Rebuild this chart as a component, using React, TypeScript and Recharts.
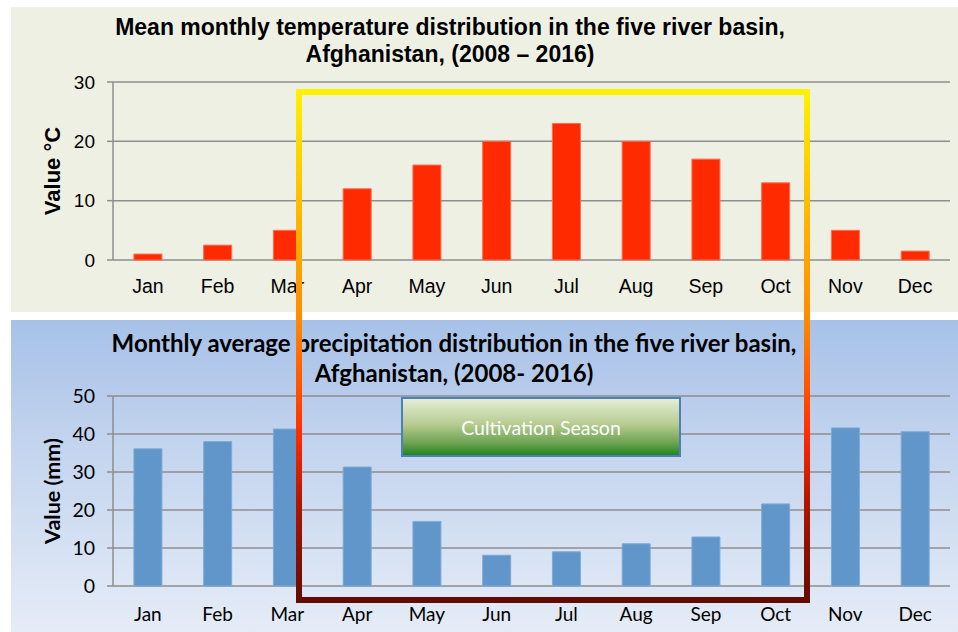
import React from "react";
import { BarChart, Bar, XAxis, YAxis, CartesianGrid } from "recharts";

const months = ["Jan", "Feb", "Mar", "Apr", "May", "Jun", "Jul", "Aug", "Sep", "Oct", "Nov", "Dec"];
const temperature = [1, 2.5, 5, 12, 16, 20, 23, 20, 17, 13, 5, 1.5];
const precipitation = [36.1, 38, 41.3, 31.3, 17, 8.1, 9, 11.1, 12.9, 21.6, 41.6, 40.6];
const tempTicks = [0, 10, 20, 30];
const precipTicks = [0, 10, 20, 30, 40, 50];
// boundaries between months, Excel style tick marks
const edgeTicks = [0, 1, 2, 3, 4, 5, 6, 7, 8, 9, 10, 11, 12];

const tempData = months.map((m, i) => ({ month: m, value: temperature[i] }));
const precipData = months.map((m, i) => ({ month: m, value: precipitation[i] }));

const GRID = "#8e8e8e";

type PanelProps = {
  data: { month: string; value: number }[];
  ticks: number[];
  max: number;
  color: string;
  edge: string;
  yLabel: string;
  font: string;
  tickSize: number;
  xTickSize: number;
  labelSize: number;
  height: number;
  top: number;
  xAxisHeight: number;
  labelGap: number;
  labelDx: number;
};

function Panel(p: PanelProps) {
  return (
    <BarChart
      width={947}
      height={p.height}
      data={p.data}
      margin={{ top: p.top, right: 8, left: 0, bottom: 0 }}
      barCategoryGap="30%"
    >
      <CartesianGrid xAxisId="cat" vertical={false} stroke={GRID} strokeWidth={1.5} />
      <XAxis
        xAxisId="edge"
        type="number"
        domain={[0, 12]}
        ticks={edgeTicks}
        interval={0}
        height={0}
        tick={false}
        tickSize={6}
        axisLine={{ stroke: GRID, strokeWidth: 1.5 }}
        tickLine={{ stroke: GRID, strokeWidth: 1.5 }}
      />
      <XAxis
        xAxisId="cat"
        dataKey="month"
        height={p.xAxisHeight}
        axisLine={false}
        tickLine={false}
        tickSize={0}
        tickMargin={p.labelGap}
        interval={0}
        tick={{ fontSize: p.xTickSize, fill: "#000", fontFamily: p.font }}
      />
      <YAxis
        width={102}
        domain={[0, p.max]}
        ticks={p.ticks}
        interval={0}
        tickSize={6}
        tickMargin={12}
        axisLine={{ stroke: GRID, strokeWidth: 1.5 }}
        tickLine={{ stroke: GRID, strokeWidth: 1.5 }}
        tick={{ fontSize: p.tickSize, fill: "#000", fontFamily: p.font }}
        label={{
          value: p.yLabel,
          angle: -90,
          position: "center",
          dx: p.labelDx,
          style: { fontSize: p.labelSize, fontWeight: "bold", fill: "#000", fontFamily: p.font },
        }}
      />
      <Bar xAxisId="cat" dataKey="value" fill={p.color} stroke={p.edge} strokeWidth={1} isAnimationActive={false} />
    </BarChart>
  );
}

export default function App() {
  const arial = "'Liberation Sans', Arial, sans-serif";
  const calibri = "Lato, 'Open Sans', sans-serif";
  return (
    <div style={{ position: "absolute", left: 0, top: 0, width: 958, height: 632, background: "#fff", overflow: "hidden" }}>
      <div style={{ position: "absolute", left: 11, top: 7, width: 947, height: 305, background: "#eff0e4" }}>
        <Panel
          data={tempData}
          ticks={tempTicks}
          max={30}
          color="#ff2a00"
          edge="#ff6a4a"
          yLabel="Value °C"
          font={arial}
          tickSize={19}
          xTickSize={19.5}
          labelSize={22}
          height={305}
          top={75}
          xAxisHeight={52}
          labelGap={19}
          labelDx={-10}
        />
      </div>
      <div
        style={{
          position: "absolute",
          left: 50,
          top: 14,
          width: 800,
          textAlign: "center",
          fontFamily: arial,
          fontWeight: "bold",
          fontSize: 23,
          lineHeight: "27px",
          color: "#000",
        }}
      >
        Mean monthly temperature distribution in the five river basin,
        <br />
        Afghanistan, (2008 – 2016)
      </div>

      <div
        style={{
          position: "absolute",
          left: 11,
          top: 320,
          width: 947,
          height: 312,
          background: "linear-gradient(to bottom, #a7c1e8 0%, #c3d4ee 40%, #e5ecf7 100%)",
        }}
      >
        <Panel
          data={precipData}
          ticks={precipTicks}
          max={50}
          color="#6096c9"
          edge="#7eaad6"
          yLabel="Value (mm)"
          font={calibri}
          tickSize={19.5}
          xTickSize={19}
          labelSize={21.5}
          height={312}
          top={76}
          xAxisHeight={46}
          labelGap={22}
          labelDx={-10}
        />
      </div>
      <div
        style={{
          position: "absolute",
          left: 54,
          top: 328,
          width: 800,
          textAlign: "center",
          fontFamily: calibri,
          fontWeight: "bold",
          fontSize: 24,
          lineHeight: "30px",
          color: "#000",
        }}
      >
        Monthly average precipitation distribution in the five river basin,
        <br />
        Afghanistan, (2008- 2016)
      </div>

      <div
        style={{
          position: "absolute",
          left: 401,
          top: 397,
          width: 276,
          height: 56,
          border: "2px solid #4f7fb8",
          background: "linear-gradient(to bottom, #e4edd7 0%, #b7cc91 45%, #6ea453 78%, #24851f 100%)",
          color: "#fff",
          fontFamily: calibri,
          fontSize: 19.5,
          display: "flex",
          alignItems: "center",
          justifyContent: "center",
        }}
      >
        Cultivation Season
      </div>

      <svg width={958} height={632} style={{ position: "absolute", left: 0, top: 0, pointerEvents: "none" }}>
        <defs>
          <linearGradient id="season" gradientUnits="userSpaceOnUse" x1={0} y1={92} x2={0} y2={600}>
            <stop offset="0" stopColor="#fff200" />
            <stop offset="0.27" stopColor="#ffb000" />
            <stop offset="0.45" stopColor="#ff8a00" />
            <stop offset="0.68" stopColor="#ff2a00" />
            <stop offset="0.81" stopColor="#b01500" />
            <stop offset="1" stopColor="#650a02" />
          </linearGradient>
        </defs>
        <rect x={299} y={92} width={508} height={508} fill="none" stroke="url(#season)" strokeWidth={6} />
      </svg>
    </div>
  );
}
